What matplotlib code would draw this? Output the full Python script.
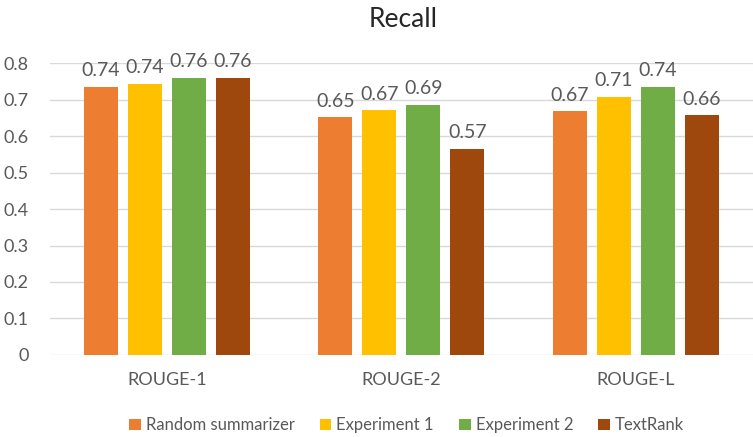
import matplotlib.pyplot as plt
import numpy as np

plt.rcParams['font.family'] = ['Lato', 'DejaVu Sans']

categories = ['ROUGE-1', 'ROUGE-2', 'ROUGE-L']
series_names = ['Random summarizer', 'Experiment 1', 'Experiment 2', 'TextRank']
values = [
	[0.736, 0.652, 0.669],
	[0.744, 0.672, 0.709],
	[0.761, 0.687, 0.736],
	[0.761, 0.566, 0.657],
]
colors = ['#ED7D31', '#FFC000', '#70AD47', '#9E480E']

fig = plt.figure(figsize=(7.53, 4.37), dpi=100)
ax = fig.add_axes([0.066, 0.188, 0.934, 0.667])

x = np.arange(len(categories))
step = 0.188
width = 0.145
for i, (name, vals) in enumerate(zip(series_names, values)):
	pos = x + (i - 1.5) * step
	bars = ax.bar(pos, vals, width, color=colors[i], label=name, zorder=3)
	for b, v in zip(bars, vals):
		ax.text(b.get_x() + b.get_width() / 2, v + 0.02, f'{v:.2f}',
				ha='center', va='bottom', fontsize=14, color='#595959', clip_on=False)

ax.set_xlim(-0.5, 2.5)
ax.set_ylim(0, 0.8)
ax.set_yticks(np.arange(0, 0.81, 0.1))
ax.set_yticklabels(['0'] + [f'{t:.1f}' for t in np.arange(0.1, 0.81, 0.1)])
ax.set_xticks(x)
ax.set_xticklabels(categories)
ax.tick_params(axis='y', length=0, labelsize=13, labelcolor='#595959', pad=15)
ax.tick_params(axis='x', length=0, labelsize=13, labelcolor='#595959', pad=12)
ax.grid(axis='y', color='#D9D9D9', linewidth=1, zorder=0)
for s in ax.spines.values():
	s.set_visible(False)

fig.text(0.536, 0.955, 'Recall', ha='center', va='center', fontsize=19, color='#262626')

fig.legend(loc='center', bbox_to_anchor=(0.54, 0.027), ncol=4, frameon=False,
		   fontsize=12, handlelength=0.7, handleheight=0.7, handletextpad=0.3,
		   columnspacing=1.5, labelcolor='#595959')

fig.savefig('out.png', dpi=100)
